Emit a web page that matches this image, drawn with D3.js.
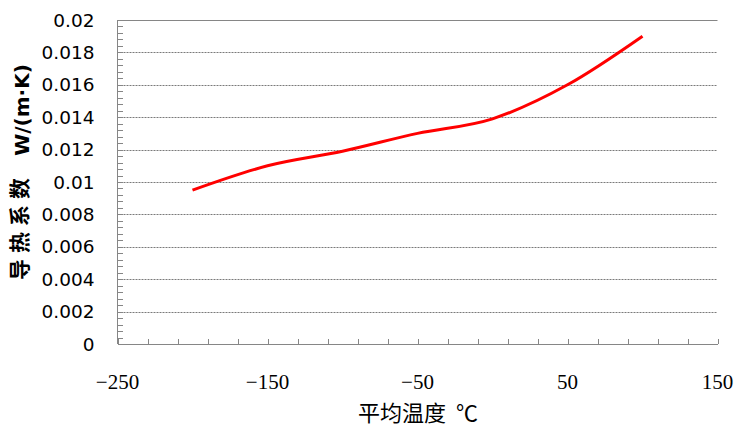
<!DOCTYPE html>
<html><head><meta charset="utf-8">
<script src="https://cdn.jsdelivr.net/npm/d3@7"></script>
<style>body{margin:0;background:#fff}svg{display:block}</style>
</head><body>
<svg id="c" width="754" height="434"></svg>
<script>
const temps = [-200, -150, -100, -50, 0, 50, 100];
const conductivity = [0.0095, 0.011, 0.0119, 0.013, 0.0139, 0.016, 0.019];
const xTickLabels = [-250, -150, -50, 50, 150];
const yTickLabels = [0, 0.002, 0.004, 0.006, 0.008, 0.01, 0.012, 0.014, 0.016, 0.018, 0.02];
const xTitle = "平均温度\u00a0\u00a0℃";
const yTitleCn = "导热系数";
const yTitleUnit = "W/(m·K)";

const svg = d3.select("#c");
const L = 117.5, R = 717.5, T = 20, B = 344;
const x = d3.scaleLinear().domain([-250, 150]).range([L, R]);
const y = d3.scaleLinear().domain([0, 0.02]).range([B, T]);
const axisCol = "#868686";

// gridlines
svg.append("g").selectAll("line").data(yTickLabels.filter(v => v > 0)).join("line")
  .attr("x1", L).attr("x2", R).attr("y1", d => Math.round(y(d)) + 0.5).attr("y2", d => Math.round(y(d)) + 0.5)
  .attr("stroke", d => d === 0.02 ? axisCol : "#7a7a7a").attr("stroke-width", 1)
  .attr("stroke-dasharray", d => d === 0.02 ? null : "2,1");

// y axis minor ticks
const yMinor = d3.range(0, 51).map(i => i * 0.0004);
const yAx = d3.axisLeft(y).tickValues(yMinor).tickSize(-5).tickFormat("");
const gy = svg.append("g").attr("transform", `translate(${L},0)`).call(yAx);
gy.select(".domain").attr("stroke", axisCol).attr("d", `M0,${B}V${T}`);
gy.selectAll(".tick line").attr("stroke", axisCol);
gy.attr("shape-rendering", "crispEdges");

// y tick labels
svg.append("g").selectAll("text").data(yTickLabels).join("text")
  .attr("x", 94.5).attr("y", d => y(d)).attr("dy", "0.36em")
  .attr("text-anchor", "end")
  .attr("font-family", "DejaVu Sans").attr("font-size", 18.5).attr("fill", "#000")
  .text(d => d === 0 ? "0" : String(d));

// x axis minor ticks
const xMinor = d3.range(-250, 151, 20);
const xAx = d3.axisBottom(x).tickValues(xMinor).tickSize(-5).tickFormat("");
const gx = svg.append("g").attr("transform", `translate(0,${B})`).call(xAx);
gx.select(".domain").attr("stroke", axisCol).attr("d", `M${L},0H${R}`);
gx.selectAll(".tick line").attr("stroke", axisCol);
gx.attr("shape-rendering", "crispEdges");

// x tick labels
svg.append("g").selectAll("text").data(xTickLabels).join("text")
  .attr("x", d => x(d)).attr("y", 382).attr("dy", "0.35em")
  .attr("text-anchor", "middle")
  .attr("font-family", "Liberation Serif").attr("font-size", 21).attr("fill", "#000")
  .text(d => d < 0 ? "\u2212" + Math.abs(d) : String(d));

// line
const line = d3.line().x((d, i) => x(temps[i])).y(d => y(d)).curve(d3.curveCardinal.tension(0));
svg.append("path").datum(conductivity)
  .attr("d", line).attr("fill", "none").attr("stroke", "#ff0000").attr("stroke-width", 3);

// x title
svg.append("text").attr("x", 418).attr("y", 413).attr("dy", "0.35em")
  .attr("text-anchor", "middle")
  .attr("font-family", "Noto Sans CJK SC").attr("font-size", 22).attr("fill", "#000")
  .text(xTitle);

// y titles
svg.append("text").attr("transform", "translate(20,226) rotate(-90)")
  .attr("text-anchor", "middle").attr("dy", "0.35em")
  .attr("font-family", "Noto Sans CJK SC").attr("font-weight", "bold")
  .attr("font-size", 21).attr("letter-spacing", "6px").attr("fill", "#000")
  .text(yTitleCn);
svg.append("text").attr("transform", "translate(22,110) rotate(-90)")
  .attr("text-anchor", "middle").attr("dy", "0.35em")
  .attr("font-family", "DejaVu Sans").attr("font-weight", "bold")
  .attr("font-size", 20).attr("fill", "#000")
  .text(yTitleUnit);
</script>
</body></html>
